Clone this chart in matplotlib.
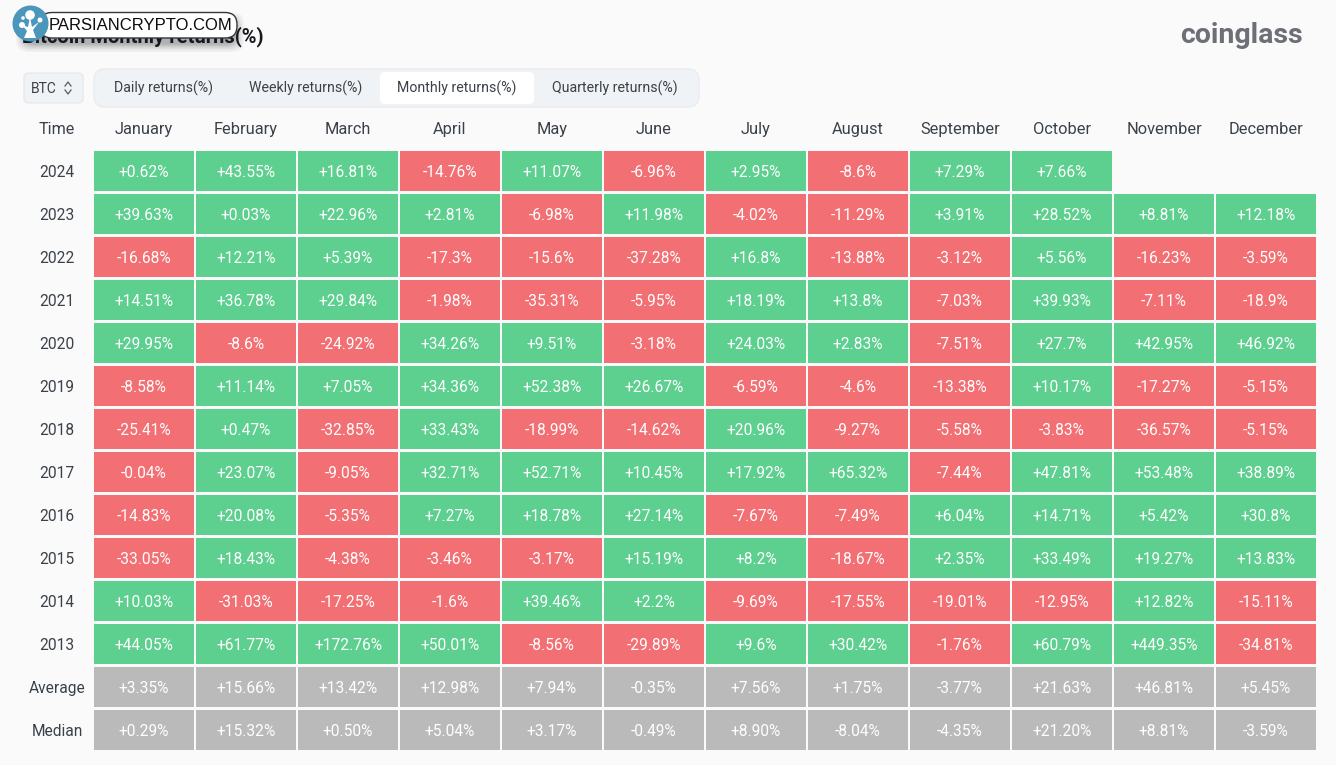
import numpy as np
import matplotlib
matplotlib.use("Agg")
import matplotlib.pyplot as plt
from matplotlib.patches import Rectangle, FancyBboxPatch, Circle, Polygon

plt.rcParams["font.family"] = ["Roboto", "DejaVu Sans"]

# ---------------- data ---------------- #
months = ["January", "February", "March", "April", "May", "June", "July",
          "August", "September", "October", "November", "December"]
years = ["2024", "2023", "2022", "2021", "2020", "2019", "2018", "2017",
         "2016", "2015", "2014", "2013"]
tabs = ["Daily returns(%)", "Weekly returns(%)", "Monthly returns(%)", "Quarterly returns(%)"]

r2024 = [0.62, 43.55, 16.81, -14.76, 11.07, -6.96, 2.95, -8.6, 7.29, 7.66, np.nan, np.nan]
r2023 = [39.63, 0.03, 22.96, 2.81, -6.98, 11.98, -4.02, -11.29, 3.91, 28.52, 8.81, 12.18]
r2022 = [-16.68, 12.21, 5.39, -17.3, -15.6, -37.28, 16.8, -13.88, -3.12, 5.56, -16.23, -3.59]
r2021 = [14.51, 36.78, 29.84, -1.98, -35.31, -5.95, 18.19, 13.8, -7.03, 39.93, -7.11, -18.9]
r2020 = [29.95, -8.6, -24.92, 34.26, 9.51, -3.18, 24.03, 2.83, -7.51, 27.7, 42.95, 46.92]
r2019 = [-8.58, 11.14, 7.05, 34.36, 52.38, 26.67, -6.59, -4.6, -13.38, 10.17, -17.27, -5.15]
r2018 = [-25.41, 0.47, -32.85, 33.43, -18.99, -14.62, 20.96, -9.27, -5.58, -3.83, -36.57, -5.15]
r2017 = [-0.04, 23.07, -9.05, 32.71, 52.71, 10.45, 17.92, 65.32, -7.44, 47.81, 53.48, 38.89]
r2016 = [-14.83, 20.08, -5.35, 7.27, 18.78, 27.14, -7.67, -7.49, 6.04, 14.71, 5.42, 30.8]
r2015 = [-33.05, 18.43, -4.38, -3.46, -3.17, 15.19, 8.2, -18.67, 2.35, 33.49, 19.27, 13.83]
r2014 = [10.03, -31.03, -17.25, -1.6, 39.46, 2.2, -9.69, -17.55, -19.01, -12.95, 12.82, -15.11]
r2013 = [44.05, 61.77, 172.76, 50.01, -8.56, -29.89, 9.6, 30.42, -1.76, 60.79, 449.35, -34.81]
average = [3.35, 15.66, 13.42, 12.98, 7.94, -0.35, 7.56, 1.75, -3.77, 21.63, 46.81, 5.45]
median = [0.29, 15.32, 0.50, 5.04, 3.17, -0.49, 8.90, -8.04, -4.35, 21.20, 8.81, -3.59]

year_rows = [r2024, r2023, r2022, r2021, r2020, r2019, r2018, r2017, r2016, r2015, r2014, r2013]

BG = "#fafafa"
GREEN = "#5dcf8f"
RED = "#f26f73"
GREY = "#bababa"
DARK = "#3a4149"
PANEL = "#f0f3f6"

W, H = 1336, 765
fig = plt.figure(figsize=(W / 100, H / 100), dpi=100, facecolor=BG)

# overlay in pixel units for the page furniture
page = fig.add_axes([0, 0, 1, 1])
page.set_xlim(0, W)
page.set_ylim(H, 0)
page.axis("off")

# table axes: one unit per month / row
left, right, top, bottom = 94, 1316, 151, 750
pitch_x, pitch_y = 102, 43
cell_w, cell_h = 100 / pitch_x, 40 / pitch_y
ax = fig.add_axes([left / W, 1 - (bottom + 3) / H, (right + 2 - left) / W, (bottom + 3 - top) / H])
ax.set_xlim(0, 12)
ax.set_ylim(14, 0)
ax.axis("off")
ax.patch.set_alpha(0)


def draw_row(row, values, label, grey=False):
    for col, v in enumerate(values):
        if np.isnan(v):
            continue
        color = GREY if grey else (GREEN if v >= 0 else RED)
        ax.add_patch(Rectangle((col, row), cell_w, cell_h, fc=color, ec="none"))
        text = f"{v:+.2f}%" if grey else f"{v:+g}%"
        ax.text(col + cell_w / 2, row + cell_h / 2 + 0.03, text, ha="center", va="center",
                color="white", fontsize=11.2)
    ax.text(-0.362, row + cell_h / 2 + 0.04, label, ha="center", va="center", color=DARK,
            fontsize=11.2, clip_on=False)


for i, (label, values) in enumerate(zip(years, year_rows)):
    draw_row(i, values, label)
draw_row(12, average, "Average", grey=True)
draw_row(13, median, "Median", grey=True)

# header row
page.text(57, 129, "Time", ha="center", va="center", color=DARK, fontsize=11.6)
for col, name in enumerate(months):
    page.text(left + 50 + col * pitch_x, 129, name, ha="center", va="center", color=DARK, fontsize=11.8)

# brand
page.text(1303, 35, "coinglass", ha="right", va="center", color="#6c7076",
          fontsize=20.5, fontweight="bold")

# BTC selector
page.add_patch(FancyBboxPatch((24, 73), 59, 30, boxstyle="round,pad=0,rounding_size=5",
                              fc=PANEL, ec="#e6e9ed", lw=1))
page.text(44, 88.5, "BTC", ha="center", va="center", color=DARK, fontsize=10)
page.plot([65, 68, 71], [86, 82, 86], color="#555b62", lw=0.9)
page.plot([65, 68, 71], [90, 94, 90], color="#555b62", lw=0.9)

# tab strip
page.add_patch(FancyBboxPatch((94, 69), 605, 38, boxstyle="round,pad=0,rounding_size=11",
                              fc=PANEL, ec="#e8ebef", lw=1))
page.add_patch(FancyBboxPatch((380, 72), 154, 32, boxstyle="round,pad=0,rounding_size=5",
                              fc="white", ec="none"))
for name, cx in zip(tabs, [164, 305.5, 457, 615]):
    page.text(cx, 88.5, name, ha="center", va="center", color=DARK, fontsize=10.2)

# watermark shadow sits under the title, pill and logo on top of it
for grow, alpha in zip([16, 13, 10, 7, 4, 1], [0.04, 0.05, 0.06, 0.08, 0.09, 0.11]):
    page.add_patch(FancyBboxPatch((24 - grow / 2, 20 - grow / 2), 212 + grow, 24 + grow,
                                  boxstyle="round,pad=0,rounding_size=12",
                                  fc="#30343a", ec="none", alpha=alpha, zorder=3))

page.text(22, 37, "Bitcoin Monthly returns(%)", ha="left", va="center", color="#15181c",
          fontsize=14.5, fontweight="bold", zorder=4)

page.add_patch(FancyBboxPatch((40, 12.5), 197, 25.5, boxstyle="round,pad=0,rounding_size=12",
                              fc="white", ec="#33373d", lw=1, zorder=6))
page.text(140.5, 25.5, "PARSIANCRYPTO.COM", ha="center", va="center", color="#0c0c0c",
          fontsize=12, family=["Liberation Sans"], zorder=7)
page.add_patch(Circle((30.5, 23.5), 18, fc="#4a97bb", ec="none", zorder=8))
page.add_patch(Polygon([(24, 38), (36, 38), (33, 30), (39, 22), (32, 27), (30, 17), (28, 27),
                        (22, 25), (27, 31)],
                       fc="white", ec="none", zorder=9))
for cx, cy, r in [(30, 15, 4.8), (22, 25, 3), (40, 20, 2.5), (23, 18, 1.8)]:
    page.add_patch(Circle((cx, cy), r, fc="white", ec="none", zorder=9))

fig.savefig("out.png", dpi=100, facecolor=BG)
